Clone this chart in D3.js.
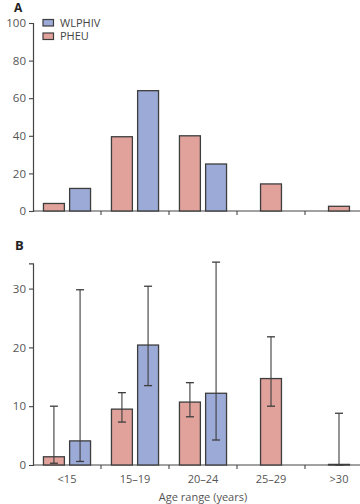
<!DOCTYPE html>
<html><head><meta charset="utf-8">
<script src="https://cdn.jsdelivr.net/npm/d3@7"></script>
<style>body{margin:0;background:#fff}svg{display:block}text{font-family:"Open Sans","Noto Sans",sans-serif}</style>
</head><body><div id="c"></div>
<script>
const categories = ["<15", "15–19", "20–24", "25–29", ">30"];
const seriesNames = ["PHEU", "WLPHIV"];
const aPHEU = [4, 39.5, 40, 14.4, 2.5];
const aWLPHIV = [12, 64, 25, null, null];
const bPHEU = [1.4, 9.5, 10.7, 14.7, 0.1];
const bPHEUlo = [0.3, 7.3, 8.2, 10.0, 0];
const bPHEUhi = [10.0, 12.3, 14.0, 21.8, 8.8];
const bWLPHIV = [4.1, 20.4, 12.2, null, null];
const bWLPHIVlo = [0.6, 13.5, 4.25, null, null];
const bWLPHIVhi = [29.8, 30.4, 34.5, null, null];
const aTicks = [0, 20, 40, 60, 80, 100];
const bTicks = [0, 10, 20, 30];

const W = 360, H = 504;
const colors = {PHEU: "#e0a29b", WLPHIV: "#9baad6"};
const stroke = "#3d3d3d";
const svg = d3.select("#c").append("svg").attr("width", W).attr("height", H);

const x = d3.scaleBand().domain(categories).range([33, 373]).paddingInner(0).paddingOuter(0);
const x1 = d3.scaleBand().domain(seriesNames).range([0, x.bandwidth()]).paddingInner(0.2).paddingOuter(0.4);

function panel(y, ticks, pheu, wl, err) {
  const g = svg.append("g");
  const ya = g.append("g").attr("transform", "translate(33,0)")
    .call(d3.axisLeft(y).tickValues(ticks).tickSize(4).tickPadding(3));
  ya.select(".domain").attr("stroke", "#444").attr("stroke-width", 1.2);
  ya.selectAll(".tick line").attr("stroke", "#444").attr("stroke-width", 1.1);
  ya.selectAll(".tick text").attr("fill", "#555").style("font-size", "11.5px");
  const y0 = y(0);
  g.append("line").attr("x1", 33).attr("x2", 373).attr("y1", y0).attr("y2", y0).attr("stroke", "#444").attr("stroke-width", 1.2);
  categories.slice(1).forEach(c => {
    g.append("line").attr("x1", x(c)).attr("x2", x(c)).attr("y1", y0).attr("y2", y0 + 4).attr("stroke", "#444").attr("stroke-width", 1.1);
  });
  categories.forEach((c, i) => {
    const bars = [];
    if (pheu[i] != null) bars.push({s: "PHEU", v: pheu[i], lo: err ? err.plo[i] : null, hi: err ? err.phi[i] : null});
    if (wl[i] != null) bars.push({s: "WLPHIV", v: wl[i], lo: err ? err.wlo[i] : null, hi: err ? err.whi[i] : null});
    bars.forEach(b => {
      let bx;
      if (bars.length === 2) bx = x(c) + x1(b.s);
      else bx = x(c) + (x.bandwidth() - x1.bandwidth()) / 2;
      const bw = x1.bandwidth();
      g.append("rect").attr("x", bx).attr("y", y(b.v)).attr("width", bw).attr("height", y0 - y(b.v))
        .attr("fill", colors[b.s]).attr("stroke", stroke).attr("stroke-width", 1.3);
      if (err && b.hi != null) {
        const cx = bx + bw / 2;
        g.append("line").attr("x1", cx).attr("x2", cx).attr("y1", y(b.lo)).attr("y2", y(b.hi)).attr("stroke", stroke).attr("stroke-width", 1.1);
        [b.lo, b.hi].forEach(v => {
          g.append("line").attr("x1", cx - 4).attr("x2", cx + 4).attr("y1", y(v)).attr("y2", y(v)).attr("stroke", stroke).attr("stroke-width", 1.3);
        });
      }
    });
  });
  return g;
}

const yA = d3.scaleLinear().domain([0, 100]).range([211, 23]);
panel(yA, aTicks, aPHEU, aWLPHIV, null);

const yB = d3.scaleLinear().domain([0, 34.3]).range([465, 263.3]);
panel(yB, bTicks, bPHEU, bWLPHIV, {plo: bPHEUlo, phi: bPHEUhi, wlo: bWLPHIVlo, whi: bWLPHIVhi});

categories.forEach(c => {
  svg.append("text").attr("x", x(c) + x.bandwidth() / 2).attr("y", 483).attr("text-anchor", "middle")
    .attr("fill", "#555").style("font-size", "11px").text(c);
});
svg.append("text").attr("x", 203).attr("y", 501).attr("text-anchor", "middle")
  .attr("fill", "#555").style("font-size", "11px").text("Age range (years)");

svg.append("text").attr("x", 14).attr("y", 11.5).attr("font-weight", "bold").style("font-size", "12px").attr("fill", "#222").text("A");
svg.append("text").attr("x", 15).attr("y", 250).attr("font-weight", "bold").style("font-size", "13px").attr("fill", "#222").text("B");

const legend = [{s: "WLPHIV", y: 19.5}, {s: "PHEU", y: 33}];
legend.forEach(l => {
  svg.append("rect").attr("x", 43).attr("y", l.y).attr("width", 10.5).attr("height", 6.5)
    .attr("fill", colors[l.s]).attr("stroke", stroke).attr("stroke-width", 1.2);
  svg.append("text").attr("x", 60).attr("y", l.y + 7).attr("fill", "#444").style("font-size", "11px").text(l.s);
});
</script></body></html>
